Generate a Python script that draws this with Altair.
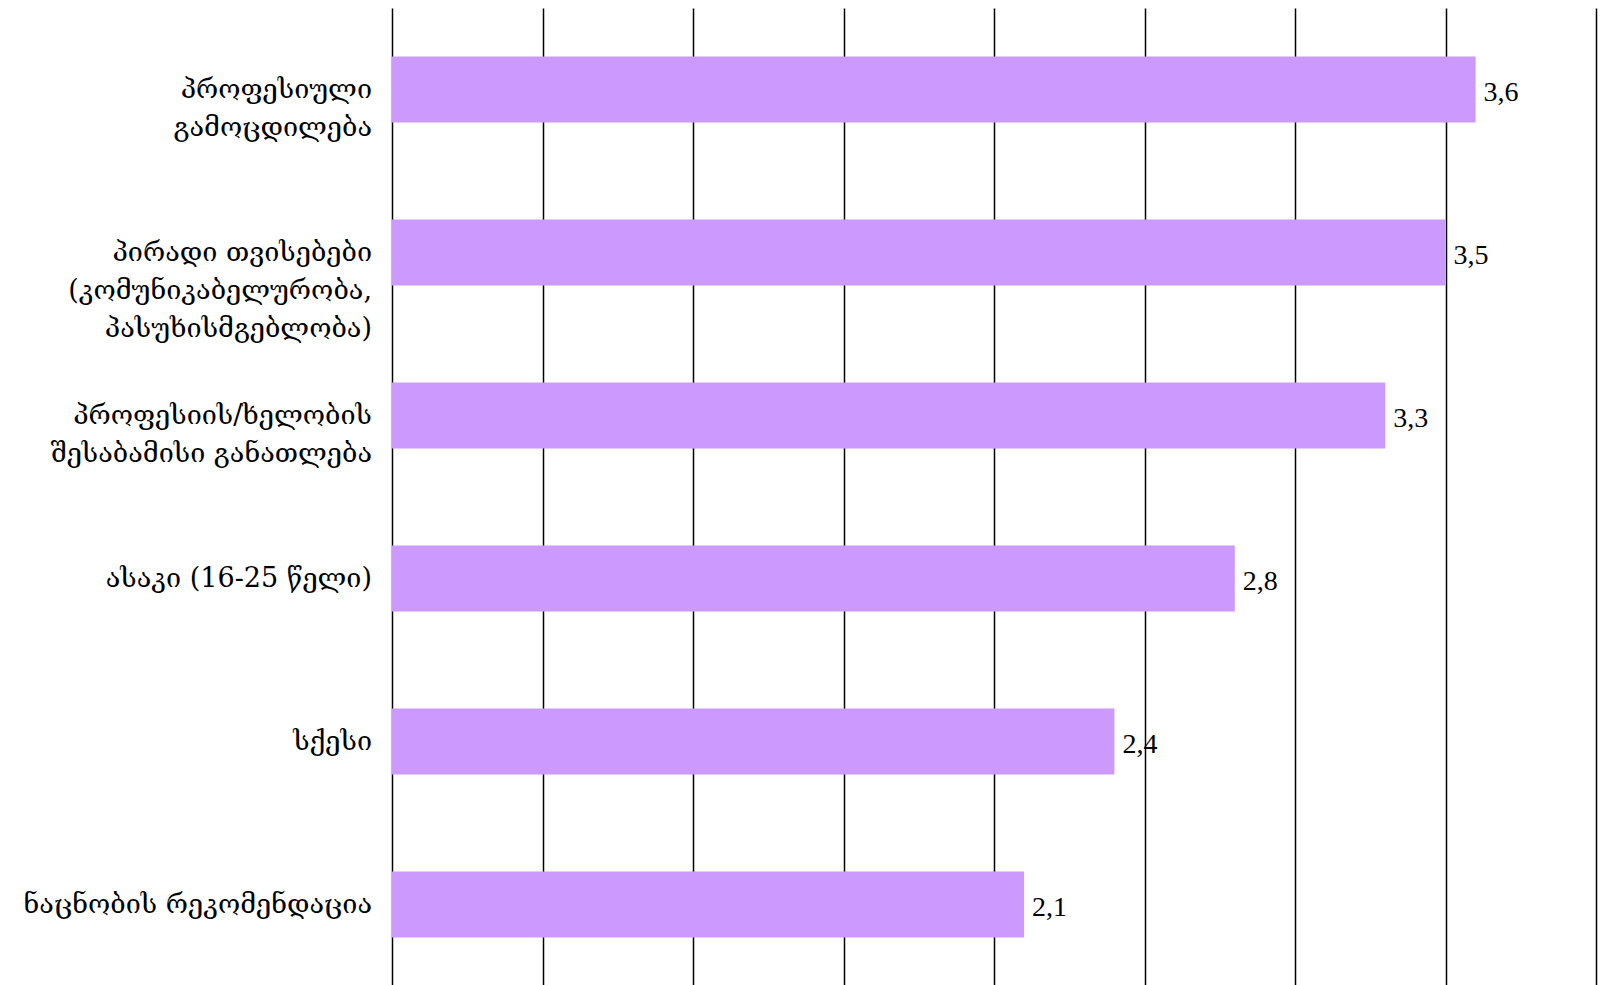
import altair as alt
import pandas as pd

categories = [
    "პროფესიული |გამოცდილება",
    "პირადი თვისებები |(კომუნიკაბელურობა,|პასუხისმგებლობა)",
    "პროფესიის/ხელობის |შესაბამისი განათლება",
    "ასაკი (16-25 წელი)",
    "სქესი",
    "ნაცნობის რეკომენდაცია",
]
values = [3.6, 3.5, 3.3, 2.8, 2.4, 2.1]
grid_values = [0, 0.5, 1, 1.5, 2, 2.5, 3, 3.5, 4]

df = pd.DataFrame({"cat": categories, "value": values})

y_enc = alt.Y("cat:N", sort=categories, axis=None,
              scale=alt.Scale(paddingInner=0.595, paddingOuter=0.2975))
x_scale = alt.Scale(domain=[0, 4], nice=False, zero=True)

bars = alt.Chart(df).mark_bar(color="#CC99FF").encode(
    x=alt.X("value:Q", scale=x_scale,
            axis=alt.Axis(values=grid_values, grid=True, gridColor="#000000", gridWidth=1.5,
                          domain=False, ticks=False, labels=False, title=None)),
    y=y_enc,
)

vals = alt.Chart(df).transform_calculate(
    lab="replace(format(datum.value, '.1f'), '.', ',')"
).mark_text(align="left", baseline="middle", dx=8, dy=3, fontSize=28,
            font="Liberation Serif", color="#000000").encode(
    x=alt.X("value:Q", scale=x_scale),
    y=y_enc,
    text="lab:N",
)

labels = alt.Chart(df).mark_text(align="right", baseline="middle", lineBreak="|",
                                 lineHeight=38, fontSize=27, font="DejaVu Serif",
                                 color="#000000").encode(
    x=alt.value(-20),
    y=y_enc,
    text="cat:N",
)

chart = alt.layer(bars, vals, labels).properties(
    width=1204, height=978,
    background="#ffffff",
    autosize=alt.AutoSizeParams(type="none"),
    padding={"left": 384, "top": 0, "right": 2, "bottom": 0},
).configure_view(stroke=None, strokeWidth=0)

chart.save("out.html", embed_options={"renderer": "svg", "actions": False})
